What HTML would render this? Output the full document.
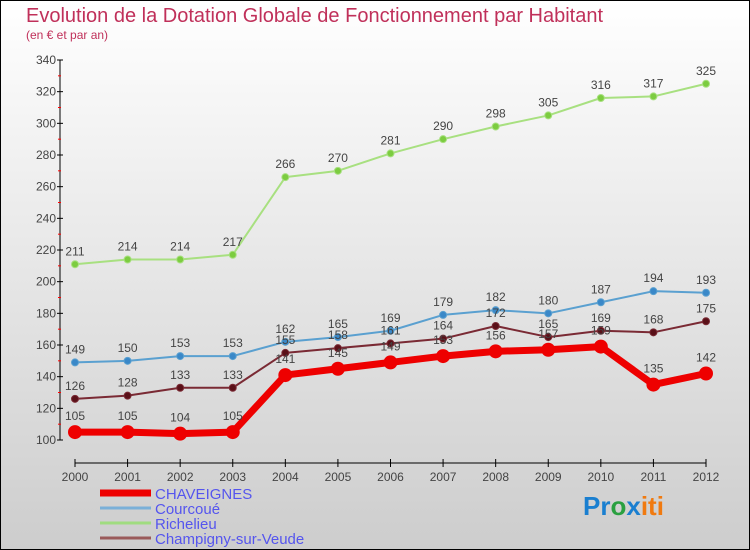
<!DOCTYPE html>
<html><head><meta charset="utf-8"><style>
html,body{margin:0;padding:0}
body{width:750px;height:550px;overflow:hidden;font-family:"Liberation Sans",sans-serif}
svg{display:block}
</style></head><body>
<svg id="c" width="750" height="550" xmlns="http://www.w3.org/2000/svg">
<defs><linearGradient id="bg" x1="0" y1="0" x2="0" y2="1"><stop offset="0" stop-color="#ffffff"/><stop offset="1" stop-color="#cdcdcd"/></linearGradient></defs>
<rect x="0.5" y="0.5" width="749" height="549" fill="url(#bg)" stroke="#000"/>
<text x="26" y="22" font-size="20" fill="#c0305a">Evolution de la Dotation Globale de Fonctionnement par Habitant</text>
<text x="26" y="39" font-size="12" fill="#c0305a">(en € et par an)</text>
<g id="axes"></g><g id="series"></g><g id="legend"></g>
<text x="583" y="515" font-size="26" font-weight="bold"><tspan fill="#1a7fd0">Pr</tspan><tspan fill="#2aa040">o</tspan><tspan fill="#1a7fd0">x</tspan><tspan fill="#f07a10">iti</tspan></text>
</svg>
<script>
const years=[2000,2001,2002,2003,2004,2005,2006,2007,2008,2009,2010,2011,2012];
const yTicks=[100,120,140,160,180,200,220,240,260,280,300,320,340];
const chaveignes=[105,105,104,105,141,145,149,153,156,157,159,135,142];
const courcoue=[149,150,153,153,162,165,169,179,182,180,187,194,193];
const richelieu=[211,214,214,217,266,270,281,290,298,305,316,317,325];
const champigny=[126,128,133,133,155,158,161,164,172,165,169,168,175];
const seriesNames=["Richelieu","Courcoué","Champigny-sur-Veude","CHAVEIGNES"];
const NS="http://www.w3.org/2000/svg";
const xs=y=>75+(y-2000)*(706-75)/12;
const ys=v=>440-(v-100)*(380/240);
function mk(tag,attrs,parent){const e=document.createElementNS(NS,tag);for(const k in attrs)e.setAttribute(k,attrs[k]);parent.appendChild(e);return e;}
const axes=document.getElementById('axes');
let yl=mk('line',{x1:60,y1:60,x2:60,y2:440,stroke:'#000'},axes);


yTicks.forEach(t=>{
  mk('line',{x1:57,x2:63,y1:ys(t),y2:ys(t),stroke:'#000'},axes);
  if(t<340)mk('line',{x1:58,x2:61,y1:ys(t+10),y2:ys(t+10),stroke:'#f00'},axes);
  const tx=mk('text',{x:56,y:ys(t)+4,'font-size':12,'text-anchor':'end',fill:'#444'},axes);
  tx.textContent=t;
  
  
});
let xl=mk('line',{x1:75,y1:463,x2:706,y2:463,stroke:'#000'},axes);


years.forEach(y=>{
  mk('line',{x1:xs(y),x2:xs(y),y1:459,y2:467,stroke:'#000'},axes);
  const tx=mk('text',{x:xs(y),y:481,'font-size':12,'text-anchor':'middle',fill:'#444'},axes);
  tx.textContent=y;
  
  
});
const sg=document.getElementById('series');
function draw(vals,name,color,dot,w,r,dy){
  const g=mk('g',{},sg);
  
  
  const pl=mk('polyline',{points:vals.map((v,i)=>xs(years[i])+','+ys(v)).join(' '),fill:'none',stroke:color,'stroke-width':w,'stroke-linejoin':'round'},g);
  
  
  vals.forEach((v,i)=>{
    const c=mk('circle',{cx:xs(years[i]),cy:ys(v),r:r,fill:dot,stroke:color,'stroke-width':1},g);
    
    
    const t=mk('text',{x:xs(years[i]),y:ys(v)+dy,'font-size':12,'text-anchor':'middle',fill:'#444'},g);
    t.textContent=v;
    
    
  });
}
draw(richelieu,'richelieu','#a8e080','#7ccc40',2,3.5,-9);
draw(courcoue,'courcoue','#5aa0d0','#3a88c8',2,3.5,-9);
draw(champigny,'champigny','#7a2a34','#5a1018',2,3.5,-9);
draw(chaveignes,'chaveignes','#ee0000','#ee0000',7,6.5,-12);
const lg=document.getElementById('legend');
const leg=[['CHAVEIGNES','#ee0000',7,497],['Courcoué','#7ab0d8',3,512],['Richelieu','#a0dc80',3,527],['Champigny-sur-Veude','#9a5a5a',3,542]];
leg.forEach(l=>{
  const g=mk('g',{},lg);
  
  g.setAticribute=null;
  
  mk('line',{x1:100,x2:151,y1:l[3]-4,y2:l[3]-4,stroke:l[1],'stroke-width':l[2]},g);
  const t=mk('text',{x:155,y:l[3]+2,'font-size':15,fill:'#5555ee'},g);
  t.textContent=l[0];
});
</script>
</body></html>
